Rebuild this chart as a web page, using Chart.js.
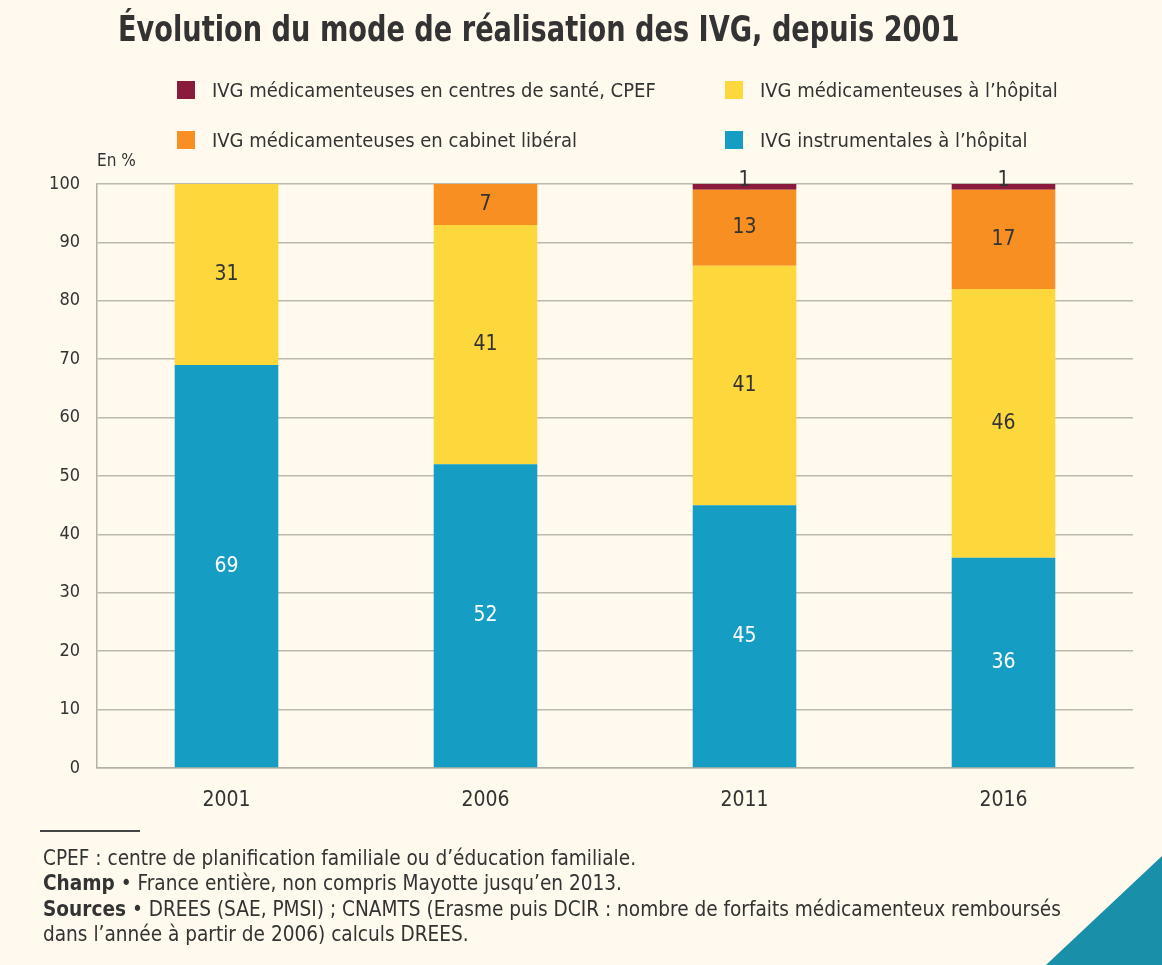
<!DOCTYPE html>
<html><head><meta charset="utf-8">
<script src="https://cdn.jsdelivr.net/npm/chart.js@4.4.1/dist/chart.umd.min.js"></script>
<style>
html,body{margin:0;padding:0;background:#FFF9EE;}
body{width:1162px;height:965px;position:relative;overflow:hidden;font-family:"Liberation Sans Narrow","DejaVu Sans Condensed","Liberation Sans",sans-serif;color:#333;}
#wrap{position:absolute;left:0;top:0;width:1162px;height:965px;}
#title{position:absolute;left:118px;top:8px;font-size:36px;font-weight:bold;color:#333;white-space:nowrap;transform:scaleX(0.84);transform-origin:0 0;}
.leg{position:absolute;font-size:20px;line-height:24px;color:#333;white-space:nowrap;}
.leg span.sw{position:absolute;left:-35px;top:3px;width:18px;height:18px;}
#unit{position:absolute;left:97px;top:150px;font-size:17px;}
#rule{position:absolute;left:40px;top:830px;width:100px;height:2px;background:#444;}
.foot{position:absolute;left:43px;font-size:20.6px;line-height:24px;white-space:nowrap;}
#tri{position:absolute;left:0;top:0;}
</style></head><body>
<div id="wrap"><canvas id="c" width="1162" height="965"></canvas></div>
<div id="title">Évolution du mode de réalisation des IVG, depuis 2001</div>
<div id="legend"></div>
<div id="unit">En %</div>
<div id="rule"></div>
<div class="foot" style="top:846px">CPEF : centre de planification familiale ou d’éducation familiale.</div>
<div class="foot" style="top:871px"><b>Champ</b> • France entière, non compris Mayotte jusqu’en 2013.</div>
<div class="foot" style="top:897px"><b>Sources</b> • DREES (SAE, PMSI) ; CNAMTS (Erasme puis DCIR : nombre de forfaits médicamenteux remboursés</div>
<div class="foot" style="top:922px">dans l’année à partir de 2006) calculs DREES.</div>
<svg id="tri" width="1162" height="965"><polygon points="1046,965 1162,856 1162,965" fill="#1A8FA9"/></svg>
<script>
const years = ["2001", "2006", "2011", "2016"];
const instrHopital = [69, 52, 45, 36];
const medHopital = [31, 41, 41, 46];
const medCabinet = [0, 7, 13, 17];
const medCentres = [0, 0, 1, 1];
const yTicks = [0,10,20,30,40,50,60,70,80,90,100];

const FONT = '"Liberation Sans Narrow","DejaVu Sans Condensed","Liberation Sans",sans-serif';
const datasets = [
  {label:"IVG instrumentales à l’hôpital", data:instrHopital, backgroundColor:"#169DC3", txt:"#fff"},
  {label:"IVG médicamenteuses à l’hôpital", data:medHopital, backgroundColor:"#FDD83C", txt:"#333"},
  {label:"IVG médicamenteuses en cabinet libéral", data:medCabinet, backgroundColor:"#F78F22", txt:"#333"},
  {label:"IVG médicamenteuses en centres de santé, CPEF", data:medCentres, backgroundColor:"#8A1B3C", txt:"#333"}
];
datasets.forEach(d=>{d.barPercentage=0.4;d.categoryPercentage=1;d.borderWidth=0;});

// legend (2 columns)
const legPos = [[760,78,1],[760,128,0],[212,78,3],[212,128,2]];
const legDiv = document.getElementById('legend');
legPos.forEach(([x,y,i])=>{
  const d = document.createElement('div'); d.className='leg';
  d.style.left=x+'px'; d.style.top=y+'px';
  d.innerHTML='<span class="sw" style="background:'+datasets[i].backgroundColor+'"></span>'+datasets[i].label;
  legDiv.appendChild(d);
});

const labelPlugin = {
  id:'lbl',
  afterDatasetsDraw(chart){
    const ctx = chart.ctx;
    ctx.save();
    ctx.font = '21px '+FONT;
    ctx.textAlign='center'; ctx.textBaseline='middle';
    chart.data.datasets.forEach((ds,di)=>{
      chart.getDatasetMeta(di).data.forEach((bar,i)=>{
        const v = ds.data[i];
        if(!v) return;
        const cy = (bar.y+bar.base)/2;
        ctx.fillStyle = ds.txt;
        if(v<3){ ctx.fillText(String(v), bar.x, cy-6); }
        else ctx.fillText(String(v), bar.x, cy);
      });
    });
    ctx.restore();
  }
};

new Chart(document.getElementById('c'), {
  type:'bar',
  data:{labels:years, datasets},
  options:{
    responsive:false, animation:false,
    layout:{padding:{top:184,right:29,bottom:0,left:0}},
    plugins:{legend:{display:false}, tooltip:{enabled:false}},
    scales:{
      x:{stacked:true, grid:{display:false}, border:{display:true,color:'#B5B1A5',width:1.5},
         ticks:{color:'#333',font:{family:FONT,size:21},padding:12},
         afterFit(s){s.height=965-768;}},
      y:{stacked:true, min:0, max:100,
         afterBuildTicks(s){s.ticks=yTicks.map(v=>({value:v}));},
         grid:{color:'#BDB9AD',lineWidth:1.5,drawTicks:false},
         border:{display:true,color:'#B5B1A5',width:1.5},
         ticks:{color:'#333',font:{family:FONT,size:18},padding:17},
         afterFit(s){s.width=97;}}
    }
  },
  plugins:[labelPlugin]
});
</script>
</body></html>
